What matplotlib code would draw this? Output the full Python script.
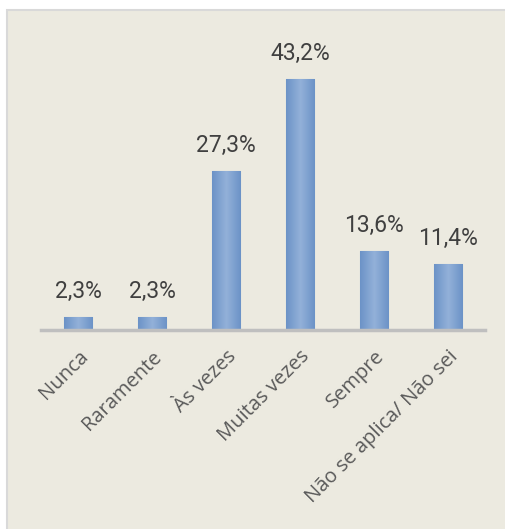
import numpy as np
import matplotlib.pyplot as plt
from matplotlib.patches import Rectangle
from matplotlib.colors import LinearSegmentedColormap

categories = ["Nunca", "Raramente", "Às vezes", "Muitas vezes", "Sempre", "Não se aplica/ Não sei"]
values = [2.3, 2.3, 27.3, 43.2, 13.6, 11.4]
value_labels = ["2,3%", "2,3%", "27,3%", "43,2%", "13,6%", "11,4%"]

fig = plt.figure(figsize=(5.06, 5.29), dpi=100)

# beige panel behind the chart
panel = Rectangle((7 / 506, -0.01), 1.0, 1 - 10 / 529 + 0.01, transform=fig.transFigure,
                  facecolor="#ECEAE0", edgecolor="#D9D9D9", linewidth=1.5, zorder=-10)
fig.patches.append(panel)

ax = fig.add_axes([41 / 506, (529 - 330) / 529, 444 / 506, 261.5 / 529])
ax.set_facecolor("none")

x = range(len(categories))
bars = ax.bar(x, values, width=0.39, color="#7DA1D0", edgecolor="#9AB6DC", linewidth=0.8, zorder=2)

# horizontal shading on each bar (darker sides, lighter middle)
shade = LinearSegmentedColormap.from_list("shade", ["#6C93C7", "#93B1D9", "#6C93C7"])
grad = np.linspace(0, 1, 64).reshape(1, -1)
for b in bars:
    im = ax.imshow(grad, cmap=shade, aspect="auto", zorder=2.5,
                   extent=(b.get_x(), b.get_x() + b.get_width(), 0, b.get_height()))
    im.set_clip_path(b)

for i, (v, lab) in enumerate(zip(values, value_labels)):
    ax.annotate(lab, (i, v), xytext=(0, 10), textcoords="offset points",
                ha="center", va="bottom", fontsize=16.5, color="#404040",
                family=["Roboto", "DejaVu Sans"])

ax.set_xlim(-0.5, 5.5)
ax.set_ylim(0, 45)
ax.set_yticks([])
ax.set_xticks(list(x))
ax.set_xticklabels(categories, rotation=45, ha="right", rotation_mode="anchor",
                   fontsize=14.5, color="#595959", family=["Open Sans", "DejaVu Sans"])
ax.tick_params(axis="x", length=0, pad=12)

for s in ["top", "right", "left"]:
    ax.spines[s].set_visible(False)
ax.spines["bottom"].set_color("#BFBFBF")
ax.spines["bottom"].set_linewidth(2.5)
ax.spines["bottom"].set_zorder(3)

fig.savefig("out.png", dpi=100)
